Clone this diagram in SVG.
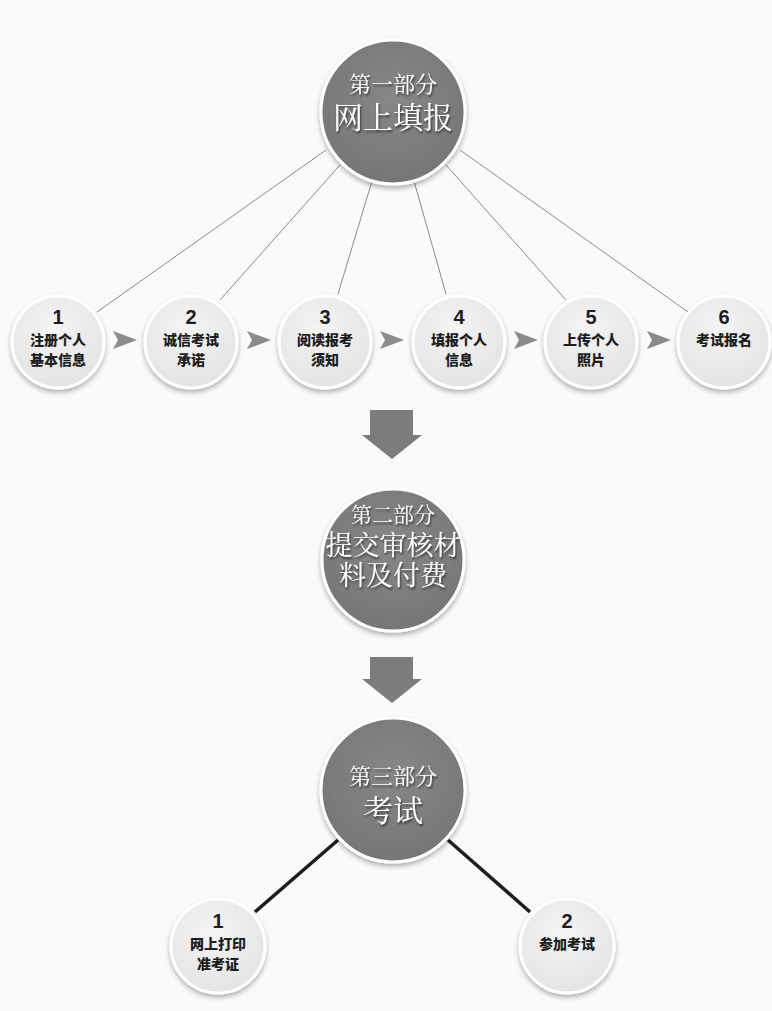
<svg xmlns="http://www.w3.org/2000/svg" width="772" height="1011" viewBox="0 0 772 1011">
<defs>
<radialGradient id="bigG" cx="50%" cy="40%" r="60%">
<stop offset="0" stop-color="#878787"/>
<stop offset="1" stop-color="#767676"/>
</radialGradient>
<radialGradient id="smG" cx="45%" cy="35%" r="65%">
<stop offset="0" stop-color="#f4f4f4"/>
<stop offset="1" stop-color="#e4e4e4"/>
</radialGradient>
<filter id="sh" x="-20%" y="-20%" width="140%" height="150%">
<feGaussianBlur in="SourceAlpha" stdDeviation="2.5"/>
<feOffset dx="0" dy="3" result="b"/>
<feComponentTransfer><feFuncA type="linear" slope="0.3"/></feComponentTransfer>
<feMerge><feMergeNode/><feMergeNode in="SourceGraphic"/></feMerge>
</filter>
<filter id="tsh" x="-10%" y="-10%" width="120%" height="130%">
<feGaussianBlur in="SourceAlpha" stdDeviation="1"/>
<feOffset dx="1" dy="1.5"/>
<feComponentTransfer><feFuncA type="linear" slope="0.6"/></feComponentTransfer>
<feMerge><feMergeNode/><feMergeNode in="SourceGraphic"/></feMerge>
</filter>
</defs>
<style>
.big{fill:url(#bigG);stroke:#ffffff;stroke-width:3;filter:url(#sh)}
.sm{fill:url(#smG);stroke:#ffffff;stroke-width:3;filter:url(#sh)}
.bt{font-family:"Liberation Serif","Noto Serif CJK SC","Noto Sans CJK SC",serif;fill:#ffffff;text-anchor:middle;filter:url(#tsh)}
.num{font-family:"Liberation Sans",Arial,sans-serif;font-weight:bold;font-size:20px}
.st{font-family:"Noto Sans CJK SC",sans-serif;font-weight:900;font-size:14px;fill:#1e1e1e;text-anchor:middle}
.thin{stroke:#8a8a8a;stroke-width:1;fill:none}
.thick{stroke:#1e1e1e;stroke-width:3.5;fill:none}
.tri{fill:#8c8c8c}
.arr{fill:#7c7c7c}
</style>
<rect width="772" height="1011" fill="#fafafa"/>
<g id="connectors">
<line class="thin" x1="326" y1="150" x2="97" y2="312"/>
<line class="thin" x1="340" y1="165" x2="220" y2="300"/>
<line class="thin" x1="372" y1="181" x2="338" y2="294"/>
<line class="thin" x1="414" y1="181" x2="446" y2="294"/>
<line class="thin" x1="446" y1="165" x2="566" y2="300"/>
<line class="thin" x1="460" y1="150" x2="688" y2="312"/>
<polygon class="tri" points="113,331 137,340 113,349 118,340"/>
<polygon class="tri" points="247,331 271,340 247,349 252,340"/>
<polygon class="tri" points="380,331 404,340 380,349 385,340"/>
<polygon class="tri" points="514,331 538,340 514,349 519,340"/>
<polygon class="tri" points="647,331 671,340 647,349 652,340"/>
<polygon class="arr" points="370,410 413,410 413,435 422,435 392,459 362,435 370,435"/>
<polygon class="arr" points="370,657 413,657 413,679 422,679 392,703 362,679 370,679"/>
<line class="thick" x1="338" y1="840" x2="255" y2="912"/>
<line class="thick" x1="448" y1="840" x2="530" y2="912"/>
</g>
<g id="part1">
<circle class="big" cx="393" cy="112" r="72"/>
<text class="bt" x="393" y="92" font-size="22">第一部分<tspan x="393" dy="36" font-size="30">网上填报</tspan></text>
</g>
<g id="s1">
<circle class="sm" cx="58" cy="342" r="46"/>
<text class="st" x="58" y="324"><tspan class="num">1</tspan><tspan x="58" dy="21">注册个人</tspan><tspan x="58" dy="20">基本信息</tspan></text>
</g>
<g id="s2">
<circle class="sm" cx="191" cy="342" r="46"/>
<text class="st" x="191" y="324"><tspan class="num">2</tspan><tspan x="191" dy="21">诚信考试</tspan><tspan x="191" dy="20">承诺</tspan></text>
</g>
<g id="s3">
<circle class="sm" cx="325" cy="342" r="46"/>
<text class="st" x="325" y="324"><tspan class="num">3</tspan><tspan x="325" dy="21">阅读报考</tspan><tspan x="325" dy="20">须知</tspan></text>
</g>
<g id="s4">
<circle class="sm" cx="459" cy="342" r="46"/>
<text class="st" x="459" y="324"><tspan class="num">4</tspan><tspan x="459" dy="21">填报个人</tspan><tspan x="459" dy="20">信息</tspan></text>
</g>
<g id="s5">
<circle class="sm" cx="591" cy="342" r="46"/>
<text class="st" x="591" y="324"><tspan class="num">5</tspan><tspan x="591" dy="21">上传个人</tspan><tspan x="591" dy="20">照片</tspan></text>
</g>
<g id="s6">
<circle class="sm" cx="724" cy="342" r="46"/>
<text class="st" x="724" y="324"><tspan class="num">6</tspan><tspan x="724" dy="21">考试报名</tspan></text>
</g>
<g id="part2">
<circle class="big" cx="393" cy="560" r="71"/>
<text class="bt" x="393" y="522" font-size="21">第二部分<tspan x="393" dy="33" font-size="27">提交审核材</tspan><tspan x="393" dy="30" font-size="27">料及付费</tspan></text>
</g>
<g id="part3">
<circle class="big" cx="393" cy="790" r="72"/>
<text class="bt" x="393" y="784" font-size="22">第三部分<tspan x="393" dy="37" font-size="30">考试</tspan></text>
</g>
<g id="e1">
<circle class="sm" cx="218" cy="946" r="47"/>
<text class="st" x="218" y="928"><tspan class="num">1</tspan><tspan x="218" dy="21">网上打印</tspan><tspan x="218" dy="20">准考证</tspan></text>
</g>
<g id="e2">
<circle class="sm" cx="567" cy="946" r="47"/>
<text class="st" x="567" y="928"><tspan class="num">2</tspan><tspan x="567" dy="21">参加考试</tspan></text>
</g>
</svg>
